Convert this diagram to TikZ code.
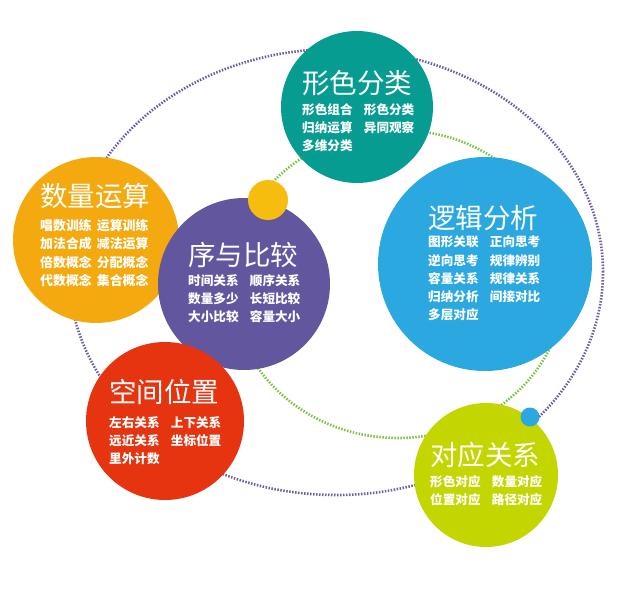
\documentclass[tikz,border=0pt]{standalone}
\usepackage{fontspec}
\newfontfamily\cjk{Noto Sans CJK SC}
\definecolor{cteal}{HTML}{079C92}
\definecolor{cblue}{HTML}{2BA8E0}
\definecolor{cpurple}{HTML}{62569F}
\definecolor{cyellow}{HTML}{F6BD0F}
\definecolor{corange}{HTML}{F4A90F}
\definecolor{cred}{HTML}{E5340F}
\definecolor{clime}{HTML}{C4D600}
\definecolor{dotpurple}{HTML}{6A5FAA}
\definecolor{dotgreen}{HTML}{7DC242}
\tikzset{
  ball/.style={circle, draw=none, inner sep=0pt, minimum size=#1},
  ttl/.style={anchor=west, inner sep=0pt, text=white, font=\cjk\fontsize{27.5}{30}\selectfont},
  items/.style={anchor=north west, inner sep=0pt, text=white, align=left, font=\cjk\bfseries\fontsize{12.6}{18.2}\selectfont},
  dotline/.style={line width=2.6pt, dash pattern=on 1.5pt off 1.5pt}
}
\begin{document}
\begin{tikzpicture}[x=1pt,y=-1pt]
\useasboundingbox (0,0) rectangle (624,606);
% dotted orbits
\draw[dotline, draw=dotpurple] (336,272) ellipse [x radius=267pt, y radius=223pt];
\draw[dotline, draw=dotgreen] (398,284) ellipse [x radius=167pt, y radius=154pt];
% circles
\node[ball=152pt, fill=cteal] (teal) at (357,107) {};
\node[ball=214pt, fill=cblue] (blue) at (485,264) {};
\node[ball=166pt, fill=corange] (orange) at (96,240) {};
\node[ball=172pt, fill=cpurple] (purple) at (244,284) {};
\node[ball=40pt, fill=cyellow] (dotyellow) at (268,200) {};
\node[ball=158pt, fill=cred] (red) at (165,421) {};
\node[ball=144pt, fill=clime] (lime) at (486,475) {};
\node[ball=19pt, fill=cblue] (dotblue) at (530,417) {};
% texts
\node[ttl] (t1) at (302,83) {形色分类};
\node[items] (i1) at (302,103) {形色组合\hspace{0.9em}形色分类\\归纳运算\hspace{0.9em}异同观察\\多维分类};
\node[ttl] (t2) at (40,196) {数量运算};
\node[items, font=\cjk\bfseries\fontsize{12.9}{18.4}\selectfont] (i2) at (40,219) {唱数训练\hspace{0.4em}运算训练\\加法合成\hspace{0.4em}减法运算\\倍数概念\hspace{0.4em}分配概念\\代数概念\hspace{0.4em}集合概念};
\node[ttl] (t3) at (188,255) {序与比较};
\node[items] (i3) at (188,274) {时间关系\hspace{0.9em}顺序关系\\数量多少\hspace{0.9em}长短比较\\大小比较\hspace{0.9em}容量大小};
\node[ttl] (t4) at (428,218) {逻辑分析};
\node[items] (i4) at (428,236) {图形关联\hspace{0.9em}正向思考\\逆向思考\hspace{0.9em}规律辨别\\容量关系\hspace{0.9em}规律关系\\归纳分析\hspace{0.9em}间接对比\\多层对应};
\node[ttl] (t5) at (109,392) {空间位置};
\node[items] (i5) at (109,416) {左右关系\hspace{0.9em}上下关系\\远近关系\hspace{0.9em}坐标位置\\里外计数};
\node[ttl] (t6) at (430,455) {对应关系};
\node[items] (i6) at (430,475) {形色对应\hspace{0.9em}数量对应\\位置对应\hspace{0.9em}路径对应};
\end{tikzpicture}
\end{document}
